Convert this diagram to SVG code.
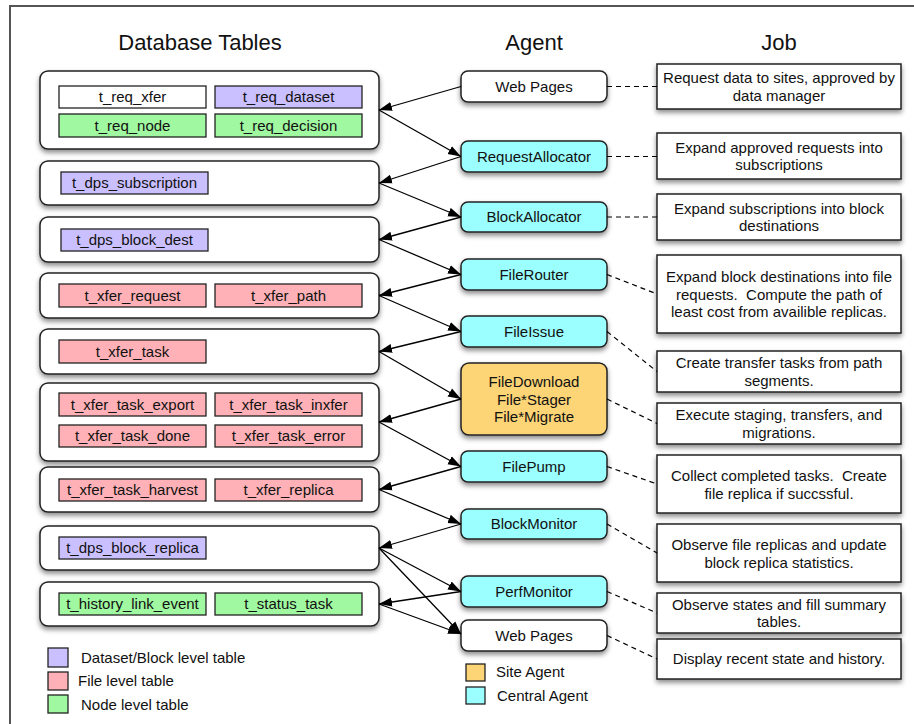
<svg xmlns="http://www.w3.org/2000/svg" width="914" height="724" viewBox="0 0 914 724">
<defs>
<filter id="sh" x="-10%" y="-20%" width="120%" height="160%">
<feDropShadow dx="0" dy="3" stdDeviation="2.5" flood-color="#000" flood-opacity="0.45"/>
</filter>
<marker id="ah" markerUnits="userSpaceOnUse" markerWidth="14" markerHeight="10" refX="13" refY="5" orient="auto">
<path d="M0,0.5 L13,5 L0,9.5 z" fill="#000"/>
</marker>
<style>
text{font-family:"Liberation Sans",Arial,Helvetica,sans-serif;fill:#111;}
.title{font-size:22px;text-anchor:middle;}
.t{font-size:15px;text-anchor:middle;}
.l{font-size:15px;}
.grp{fill:#fff;stroke:#222;stroke-width:1.5;filter:url(#sh);}
.tb{stroke:#222;stroke-width:1.3;}
.ag{stroke:#222;stroke-width:1.5;filter:url(#sh);}
.job{fill:#fff;stroke:#222;stroke-width:1.5;filter:url(#sh);}
.w{fill:#fff;}
.p{fill:#cbc0ff;}
.r{fill:#ffb1b7;}
.g{fill:#a0f8a0;}
.c{fill:#9bffff;}
.o{fill:#fdd476;}
.arr{stroke:#000;stroke-width:1.3;fill:none;marker-end:url(#ah);}
.dash{stroke:#000;stroke-width:1.2;fill:none;stroke-dasharray:5,4;}
</style>
</defs>
<rect x="10" y="6" width="1000" height="1000" fill="#fff" stroke="#555" stroke-width="2"/>

<text class="title" x="200" y="50">Database Tables</text>
<text class="title" x="534" y="50">Agent</text>
<text class="title" x="779" y="50">Job</text>

<!-- table groups -->
<g id="g1">
<rect class="grp" x="40" y="71" width="339" height="78" rx="8"/>
<rect class="tb w" x="59" y="86" width="147" height="22"/><text class="t" x="132.5" y="102">t_req_xfer</text>
<rect class="tb p" x="215" y="86" width="147" height="22"/><text class="t" x="288.5" y="102">t_req_dataset</text>
<rect class="tb g" x="59" y="114" width="147" height="23"/><text class="t" x="132.5" y="131">t_req_node</text>
<rect class="tb g" x="215" y="114" width="147" height="23"/><text class="t" x="288.5" y="131">t_req_decision</text>
</g>
<g id="g2">
<rect class="grp" x="40" y="161" width="339" height="44" rx="8"/>
<rect class="tb p" x="61" y="172" width="147" height="22"/><text class="t" x="134.5" y="188">t_dps_subscription</text>
</g>
<g id="g3">
<rect class="grp" x="40" y="217" width="339" height="45" rx="8"/>
<rect class="tb p" x="61" y="229" width="147" height="22"/><text class="t" x="134.5" y="245">t_dps_block_dest</text>
</g>
<g id="g4">
<rect class="grp" x="40" y="273" width="339" height="45" rx="8"/>
<rect class="tb r" x="59" y="284" width="147" height="23"/><text class="t" x="132.5" y="301">t_xfer_request</text>
<rect class="tb r" x="215" y="284" width="147" height="23"/><text class="t" x="288.5" y="301">t_xfer_path</text>
</g>
<g id="g5">
<rect class="grp" x="40" y="329" width="339" height="45" rx="8"/>
<rect class="tb r" x="59" y="340" width="147" height="23"/><text class="t" x="132.5" y="357">t_xfer_task</text>
</g>
<g id="g6">
<rect class="grp" x="40" y="383" width="339" height="78" rx="8"/>
<rect class="tb r" x="59" y="393" width="147" height="23"/><text class="t" x="132.5" y="410">t_xfer_task_export</text>
<rect class="tb r" x="215" y="393" width="147" height="23"/><text class="t" x="288.5" y="410">t_xfer_task_inxfer</text>
<rect class="tb r" x="59" y="425" width="147" height="22"/><text class="t" x="132.5" y="441">t_xfer_task_done</text>
<rect class="tb r" x="215" y="425" width="147" height="22"/><text class="t" x="288.5" y="441">t_xfer_task_error</text>
</g>
<g id="g7">
<rect class="grp" x="40" y="467" width="339" height="45" rx="8"/>
<rect class="tb r" x="59" y="479" width="147" height="22"/><text class="t" x="132.5" y="495">t_xfer_task_harvest</text>
<rect class="tb r" x="215" y="479" width="147" height="22"/><text class="t" x="288.5" y="495">t_xfer_replica</text>
</g>
<g id="g8">
<rect class="grp" x="40" y="526" width="339" height="44" rx="8"/>
<rect class="tb p" x="59" y="537" width="147" height="22"/><text class="t" x="132.5" y="553">t_dps_block_replica</text>
</g>
<g id="g9">
<rect class="grp" x="40" y="582" width="339" height="44" rx="8"/>
<rect class="tb g" x="59" y="593" width="147" height="22"/><text class="t" x="132.5" y="609">t_history_link_event</text>
<rect class="tb g" x="215" y="593" width="147" height="22"/><text class="t" x="288.5" y="609">t_status_task</text>
</g>

<!-- legend tables -->
<g id="legend-tables">
<rect class="tb p" x="48" y="648" width="20" height="19"/><text class="l" x="81" y="663">Dataset/Block level table</text>
<rect class="tb r" x="48" y="672" width="20" height="18"/><text class="l" x="78" y="686">File level table</text>
<rect class="tb g" x="48" y="695" width="20" height="18"/><text class="l" x="81" y="710">Node level table</text>
</g>

<!-- agents -->
<g id="a-web1"><rect class="ag w" x="461" y="71" width="146" height="31" rx="7"/><text class="t" x="534" y="92">Web Pages</text></g>
<g id="a-reqalloc"><rect class="ag c" x="461" y="141" width="146" height="31" rx="7"/><text class="t" x="534" y="162">RequestAllocator</text></g>
<g id="a-blockalloc"><rect class="ag c" x="461" y="202" width="146" height="30" rx="7"/><text class="t" x="534" y="222">BlockAllocator</text></g>
<g id="a-filerouter"><rect class="ag c" x="461" y="259" width="146" height="31" rx="7"/><text class="t" x="534" y="280">FileRouter</text></g>
<g id="a-fileissue"><rect class="ag c" x="461" y="316" width="146" height="31" rx="7"/><text class="t" x="534" y="337">FileIssue</text></g>
<g id="a-filedownload"><rect class="ag o" x="461" y="363" width="146" height="72" rx="8"/>
<text class="t" x="534" y="387">FileDownload</text><text class="t" x="534" y="404.5">File*Stager</text><text class="t" x="534" y="422">File*Migrate</text></g>
<g id="a-filepump"><rect class="ag c" x="461" y="451" width="146" height="31" rx="7"/><text class="t" x="534" y="472">FilePump</text></g>
<g id="a-blockmonitor"><rect class="ag c" x="461" y="509" width="146" height="30" rx="7"/><text class="t" x="534" y="529">BlockMonitor</text></g>
<g id="a-perfmonitor"><rect class="ag c" x="461" y="576" width="146" height="31" rx="7"/><text class="t" x="534" y="597">PerfMonitor</text></g>
<g id="a-web2"><rect class="ag w" x="461" y="620" width="146" height="31" rx="7"/><text class="t" x="534" y="641">Web Pages</text></g>

<g id="legend-agents">
<rect class="tb o" x="466" y="664" width="19" height="17"/><text class="l" x="496" y="677">Site Agent</text>
<rect class="tb c" x="466" y="687" width="19" height="17"/><text class="l" x="497" y="701">Central Agent</text>
</g>

<!-- jobs -->
<g id="j1"><rect class="job" x="657" y="64" width="244" height="45"/><text class="t" x="779" y="83">Request data to sites, approved by</text><text class="t" x="779" y="100.5">data manager</text></g>
<g id="j2"><rect class="job" x="657" y="133" width="244" height="46"/><text class="t" x="779" y="152.5">Expand approved requests into</text><text class="t" x="779" y="170">subscriptions</text></g>
<g id="j3"><rect class="job" x="657" y="194" width="244" height="46"/><text class="t" x="779" y="213.5">Expand subscriptions into block</text><text class="t" x="779" y="231">destinations</text></g>
<g id="j4"><rect class="job" x="657" y="255" width="244" height="78"/><text class="t" x="779" y="282">Expand block destinations into file</text><text class="t" x="779" y="299.5">requests.&#160; Compute the path of</text><text class="t" x="779" y="317">least cost from availible replicas.</text></g>
<g id="j5"><rect class="job" x="657" y="351" width="244" height="41"/><text class="t" x="779" y="368">Create transfer tasks from path</text><text class="t" x="779" y="385.5">segments.</text></g>
<g id="j6"><rect class="job" x="657" y="403" width="244" height="41"/><text class="t" x="779" y="420">Execute staging, transfers, and</text><text class="t" x="779" y="437.5">migrations.</text></g>
<g id="j7"><rect class="job" x="657" y="455" width="244" height="58"/><text class="t" x="779" y="481">Collect completed tasks.&#160; Create</text><text class="t" x="779" y="498.5">file replica if succssful.</text></g>
<g id="j8"><rect class="job" x="657" y="524" width="244" height="58"/><text class="t" x="779" y="550">Observe file replicas and update</text><text class="t" x="779" y="567.5">block replica statistics.</text></g>
<g id="j9"><rect class="job" x="657" y="593" width="244" height="40"/><text class="t" x="779" y="609.5">Observe states and fill summary</text><text class="t" x="779" y="627">tables.</text></g>
<g id="j10"><rect class="job" x="657" y="639" width="244" height="40"/><text class="t" x="779" y="664">Display recent state and history.</text></g>

<!-- connectors -->
<g id="connectors">
<line class="arr" x1="461" y1="86.5" x2="379" y2="110"/>
<line class="arr" x1="379" y1="110" x2="461" y2="156.5"/>
<line class="arr" x1="461" y1="156.5" x2="379" y2="183"/>
<line class="arr" x1="379" y1="183" x2="461" y2="217"/>
<line class="arr" x1="461" y1="217" x2="379" y2="239.5"/>
<line class="arr" x1="379" y1="239.5" x2="461" y2="274.5"/>
<line class="arr" x1="461" y1="274.5" x2="379" y2="295.5"/>
<line class="arr" x1="379" y1="295.5" x2="461" y2="331.5"/>
<line class="arr" x1="461" y1="331.5" x2="379" y2="351.5"/>
<line class="arr" x1="379" y1="351.5" x2="461" y2="399"/>
<line class="arr" x1="461" y1="399" x2="379" y2="422"/>
<line class="arr" x1="379" y1="422" x2="461" y2="466.5"/>
<line class="arr" x1="461" y1="466.5" x2="379" y2="489.5"/>
<line class="arr" x1="379" y1="489.5" x2="461" y2="524"/>
<line class="arr" x1="461" y1="524" x2="379" y2="548"/>
<line class="arr" x1="379" y1="548" x2="461" y2="591.5"/>
<line class="arr" x1="379" y1="548" x2="461" y2="634"/>
<line class="arr" x1="461" y1="591.5" x2="379" y2="604"/>
<line class="arr" x1="379" y1="604" x2="461" y2="634"/>

<line class="dash" x1="607" y1="86.5" x2="657" y2="86.5"/>
<line class="dash" x1="607" y1="156.5" x2="657" y2="156.5"/>
<line class="dash" x1="607" y1="217" x2="657" y2="217"/>
<line class="dash" x1="607" y1="274.5" x2="657" y2="294"/>
<line class="dash" x1="607" y1="331.5" x2="657" y2="371.5"/>
<line class="dash" x1="607" y1="399" x2="657" y2="423.5"/>
<line class="dash" x1="607" y1="466.5" x2="657" y2="484"/>
<line class="dash" x1="607" y1="524" x2="657" y2="553"/>
<line class="dash" x1="607" y1="591.5" x2="657" y2="613"/>
<line class="dash" x1="607" y1="635.5" x2="657" y2="659"/>
</g>
</svg>
